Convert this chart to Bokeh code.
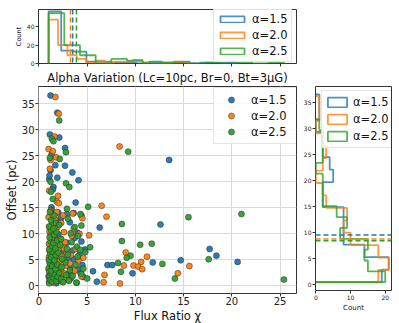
import numpy as np
from bokeh.plotting import figure
from bokeh.layouts import column, row
from bokeh.models import Range1d, Legend, LegendItem, Span, FixedTicker
from bokeh.embed import file_html
from bokeh.resources import INLINE

FONT = "DejaVu Sans"
labels = ["α=1.5", "α=2.0", "α=2.5"]
colors = ["#1f77b4", "#ff7f0e", "#2ca02c"]
title_text = "Alpha Variation (Lc=10pc, Br=0, Bt=3μG)"
x_label = "Flux Ratio χ"
y_label = "Offset (pc)"
count_label = "Count"
main_xticks = [0, 5, 10, 15, 20, 25]
main_yticks = [0, 5, 10, 15, 20, 25, 30, 35]
top_yticks = [0, 20, 40]
right_xticks = [0, 10, 20]
n_bins = 15

# ---- alpha = 1.5 (blue) ----
blue_x = [1.2, 1.9, 1.13, 2.1, 2.7, 1.3, 1.7, 2.7, 1.2, 3.46, 1.9, 1.06, 4.1, 1.1, 1.5, 1.44, 3.8, 1.3,
          6.3, 12.6, 11.8, 14.7, 17.7, 18.4, 20.6, 7.1, 7.6, 9.7, 6.0, 5.6, 13.5,
          1.10, 1.20, 1.30, 1.50, 1.70, 1.90, 2.10, 1.00, 1.40, 2.15, 3.00, 3.30, 3.90, 4.30, 4.60, 1.80,
          1.15, 1.25, 1.35, 1.55, 1.65, 1.95, 2.2, 1.1, 1.45, 2.25, 2.8, 3.2, 3.6, 4.0, 4.5, 1.75,
          1.1, 1.3, 1.5, 1.7, 2.0, 1.2, 2.3, 2.25, 3.1, 3.5, 4.2, 4.8,
          1.1, 1.3, 1.6, 2.0, 1.2, 2.9, 4.4, 3.7,
          1.2, 1.5, 2.2, 3.2, 4.0, 1.1,
          1.1, 1.3, 1.6, 2.0, 2.28, 2.9, 3.6, 4.4]
blue_y = [36.6, 33.3, 29.1, 28.5, 26.5, 25.2, 23.2, 23.1, 22.2, 21.8, 20.8, 20.5, 20.3, 21.2, 19.0, 18.5, 16.0, 15.1,
          11.2, 11.8, 4.5, 4.9, 7.1, 5.8, 4.6, 4.0, 4.0, 2.4, 0.8, 2.8, 24.2,
          2.6, 1.2, 2.0, 0.9, 2.3, 1.5, 2.7, 1.8, 2.8, 1.1, 2.2, 1.4, 0.6, 2.5, 1.7, 0.5,
          3.1, 4.6, 3.8, 5.0, 3.3, 4.2, 3.6, 4.9, 4.4, 3.0, 4.4, 3.5, 5.1, 3.2, 4.0, 2.95,
          5.6, 6.9, 6.2, 7.5, 5.8, 7.2, 6.6, 7.3, 5.5, 6.8, 6.0, 7.0,
          8.0, 9.5, 8.8, 9.9, 10.0, 8.3, 8.5, 9.2,
          10.6, 11.8, 12.3, 12.2, 10.2, 11.3,
          13.3, 14.6, 13.9, 14.1, 13.0, 13.8, 14.0, 13.5]

# ---- alpha = 2.0 (orange) ----
orange_x = [1.7, 2.05, 1.6, 1.0, 1.44, 1.8, 1.2, 1.13, 1.06, 1.98, 1.84, 2.05,
            6.5, 8.36, 7.0, 5.2, 9.0, 11.2, 10.6, 15.6, 8.8, 9.8, 10.3, 10.7, 14.4, 8.4, 6.7, 6.8,
            1.05, 1.2, 1.35, 1.5, 1.65, 1.8, 1.9, 2.1, 2.4, 2.6, 2.85, 3.1, 3.5, 4.4,
            1.02, 1.15, 1.3, 1.45, 1.6, 1.75, 1.9, 1.25, 2.05, 2.3, 2.55, 2.8, 3.2, 3.7, 4.1,
            1.03, 1.1, 1.2, 1.35, 1.5, 1.62, 1.78, 1.9, 1.45, 2.1, 2.35, 2.6, 2.9, 3.3, 3.8, 4.6,
            1.05, 1.2, 1.4, 1.6, 1.85, 2.2, 2.7, 3.4, 4.2,
            1.1, 1.3, 1.55, 1.7, 1.9, 2.3, 2.6, 3.6,
            1.0, 1.2, 1.45, 1.65, 1.85, 2.5, 3.5, 4.5]
orange_y = [36.3, 33.1, 28.7, 26.3, 25.9, 24.7, 24.2, 22.5, 18.3, 17.3, 16.2, 15.9,
            15.4, 26.8, 13.3, 9.7, 6.4, 5.6, 4.6, 3.8, 3.9, 3.9, 3.7, 3.2, 2.4, 0.45, 0.7, 2.1,
            0.9, 2.5, 1.6, 0.6, 2.2, 1.3, 2.7, 1.9, 0.8, 2.4, 1.5, 1.0, 2.6, 1.8,
            3.0, 4.4, 3.6, 5.1, 3.9, 4.8, 3.3, 4.0, 4.6, 3.2, 5.0, 3.9, 4.3, 2.9, 4.9,
            5.5, 6.8, 7.4, 6.1, 5.4, 7.0, 6.4, 5.8, 7.6, 6.9, 5.6, 7.2, 6.2, 5.9, 7.1, 5.4,
            8.1, 9.4, 8.7, 9.9, 7.9, 9.1, 8.4, 9.6, 10.0,
            10.5, 11.6, 12.2, 10.9, 11.3, 12.1, 10.3, 11.0,
            13.2, 14.4, 13.6, 12.8, 14.2, 13.5, 13.9, 13.0]

# ---- alpha = 2.5 (green) ----
green_x = [2.1, 1.34, 1.5, 2.8, 1.13, 2.16, 1.2, 2.8, 3.15, 1.23, 1.43, 5.1, 9.25,
           5.3, 8.6, 15.5, 21.0, 8.6, 10.5, 11.7, 9.5, 9.1, 12.8, 17.6, 25.4, 8.2, 8.5, 14.1,
           1.05, 1.1, 1.2, 1.3, 1.4, 1.5, 1.65, 1.8, 1.95, 2.1, 2.3, 2.5, 2.8, 3.1, 3.5, 3.9, 4.4, 5.0,
           1.0, 1.12, 1.25, 1.38, 1.55, 1.7, 1.9, 2.35, 2.75, 3.2, 3.8, 4.6,
           1.03, 1.15, 1.28, 1.42, 1.6, 1.75, 2.0, 2.4, 3.0, 4.0, 4.8,
           1.05, 1.2, 1.35, 1.5, 1.7, 1.9, 2.2, 2.9, 3.4, 3.95, 4.3,
           1.1, 1.3, 1.55, 1.8, 2.3, 3.3, 4.05,
           1.05, 1.25, 1.5, 1.75, 2.1, 3.0, 3.7, 4.4,
           1.15, 1.6, 2.9, 4.3]
green_y = [31.8, 28.3, 27.8, 25.7, 24.6, 24.4, 20.0, 19.7, 19.0, 18.1, 16.7, 15.2, 25.8,
           7.4, 11.9, 13.2, 13.8, 8.6, 7.9, 8.1, 5.8, 5.4, 4.2, 5.1, 1.2, 4.4, 2.7, 1.4,
           0.5, 1.9, 1.1, 2.4, 0.8, 1.6, 2.2, 0.9, 1.7, 2.5, 1.3, 0.7, 2.1, 1.0, 1.9, 0.6, 2.3, 1.4,
           3.4, 4.3, 2.9, 3.8, 4.6, 3.2, 4.1, 3.6, 4.5, 3.0, 4.0, 3.3,
           5.0, 6.2, 5.5, 6.6, 4.9, 5.9, 6.4, 5.2, 6.0, 5.6, 6.5,
           7.0, 8.5, 7.6, 8.2, 7.2, 8.7, 7.8, 7.1, 8.4, 7.5, 6.9,
           9.3, 10.6, 9.8, 10.4, 9.0, 10.1, 9.6,
           11.4, 12.6, 11.0, 12.1, 11.7, 12.9, 11.3, 11.6,
           14.2, 13.5, 14.8, 13.8]

series = [(blue_x, blue_y), (orange_x, orange_y), (green_x, green_y)]
EDGE = "#333333"


def style(p, tick_size, label_size, tick_out=3, standoff=2, label_standoff=1):
    for ax in p.axis:
        ax.axis_line_color = None
        ax.major_tick_line_color = EDGE
        ax.major_tick_out = tick_out
        ax.major_tick_in = 0
        ax.minor_tick_line_color = None
        ax.major_label_text_font = FONT
        ax.major_label_text_font_size = tick_size
        ax.major_label_text_color = "#222222"
        ax.major_label_standoff = standoff
        ax.axis_label_text_font = FONT
        ax.axis_label_text_font_size = label_size
        ax.axis_label_text_font_style = "normal"
        ax.axis_label_text_color = "#111111"
        ax.axis_label_standoff = label_standoff
    p.outline_line_color = EDGE
    p.outline_line_width = 1
    p.background_fill_color = "white"
    p.border_fill_color = "white"


def legend(items, loc, glyph_w, glyph_h, item_h, pad, spacing, standoff, label_w):
    return Legend(items=items, location=loc, orientation="vertical",
                  label_text_font=FONT, label_text_font_size="11.5px",
                  label_text_color="#111111",
                  glyph_width=glyph_w, glyph_height=glyph_h, label_height=item_h,
                  padding=pad, spacing=spacing, label_standoff=standoff,
                  label_width=label_w, margin=0,
                  border_line_color="#cccccc", border_line_width=1,
                  background_fill_color="white", background_fill_alpha=0.85)


XR = (-0.05, 26.71)

# ---------------- main scatter ----------------
main = figure(frame_width=258, frame_height=207,
              x_range=Range1d(*XR), y_range=Range1d(-1.48, 38.33),
              min_border_left=38, min_border_right=4, min_border_top=18, min_border_bottom=31,
              output_backend="svg", toolbar_location=None, title=title_text)
main.title.text_font = FONT
main.title.text_font_size = "11.5px"
main.title.text_font_style = "normal"
main.title.text_color = "#111111"
main.title.align = "center"
main.title.standoff = 3
style(main, "10px", "11.5px", tick_out=3, standoff=0, label_standoff=1)
main.yaxis.major_label_standoff = 1
main.yaxis.axis_label_standoff = 0
main.xaxis.ticker = FixedTicker(ticks=main_xticks)
main.yaxis.ticker = FixedTicker(ticks=main_yticks)
main.xaxis.axis_label = x_label
main.yaxis.axis_label = y_label
main.xgrid.ticker = FixedTicker(ticks=main_xticks)
main.ygrid.ticker = FixedTicker(ticks=main_yticks)
main.grid.grid_line_color = "#dadada"
main.grid.grid_line_width = 1

scatter_items = []
for (xs, ys), c, lab in zip(series, colors, labels):
    r = main.scatter(xs, ys, size=6, fill_color=c, fill_alpha=0.95,
                     line_color="#2a2a2a", line_width=0.5)
    scatter_items.append(LegendItem(label=lab, renderers=[r]))
main.add_layout(legend(scatter_items, (175, 149), 26, 15, 15, 4, 1, 7, 41))

# ---------------- top histogram (flux ratio) ----------------
top = figure(frame_width=258, frame_height=54,
             x_range=Range1d(*XR), y_range=Range1d(0, 59),
             min_border_left=38, min_border_right=4, min_border_top=9, min_border_bottom=4,
             output_backend="svg", toolbar_location=None)
style(top, "6px", "6.5px", tick_out=3, standoff=1, label_standoff=1)
top.grid.visible = False
top.xaxis.ticker = FixedTicker(ticks=main_xticks)
top.xaxis.major_label_text_font_size = "0px"
top.xaxis.major_label_text_color = None
top.xaxis.major_label_standoff = 0
top.yaxis.ticker = FixedTicker(ticks=top_yticks)
top.yaxis.axis_label = count_label

nan1 = [float("nan")]
top_items = []
for (xs, ys), c, lab in zip(series, colors, labels):
    counts, edges = np.histogram(xs, bins=n_bins)
    top.line(np.repeat(edges, 2), np.concatenate([[0], np.repeat(counts, 2), [0]]),
             line_color=c, line_width=1.8, line_alpha=0.8)
for (xs, ys), c, lab in zip(series, colors, labels):
    top.add_layout(Span(location=float(np.mean(xs)), dimension="height",
                        line_color=c, line_dash="5 3", line_width=1.5))
    dummy = top.quad(left=nan1, right=nan1, top=nan1, bottom=nan1, fill_alpha=0,
                     line_color=c, line_width=1.8, line_alpha=0.8)
    top_items.append(LegendItem(label=lab, renderers=[dummy]))
top.add_layout(legend(top_items, (175, 1), 30, 8, 15, 3, 1, 5, 36))

# ---------------- right histogram (offset) ----------------
right = figure(frame_width=76, frame_height=204,
               x_range=Range1d(-0.09, 21.8), y_range=Range1d(-1.1, 38.13),
               min_border_left=12, min_border_right=6, min_border_top=19, min_border_bottom=33,
               output_backend="svg", toolbar_location=None)
style(right, "6px", "7px", tick_out=3, standoff=1, label_standoff=1)
right.grid.visible = False
right.xaxis.ticker = FixedTicker(ticks=right_xticks)
right.yaxis.ticker = FixedTicker(ticks=main_yticks)
right.xaxis.axis_label = count_label

right_items = []
for (xs, ys), c, lab in zip(series, colors, labels):
    counts, edges = np.histogram(ys, bins=n_bins)
    right.line(np.concatenate([[0], np.repeat(counts, 2), [0]]), np.repeat(edges, 2),
               line_color=c, line_width=1.8, line_alpha=0.8)
for (xs, ys), c, lab in zip(series, colors, labels):
    right.add_layout(Span(location=float(np.mean(ys)), dimension="width",
                          line_color=c, line_dash="5 3", line_width=1.5))
    dummy = right.quad(left=nan1, right=nan1, top=nan1, bottom=nan1, fill_alpha=0,
                       line_color=c, line_width=1.8, line_alpha=0.8)
    right_items.append(LegendItem(label=lab, renderers=[dummy]))
right.add_layout(legend(right_items, (6, 142), 24, 12, 16, 3, 1, 4, 36))

layout = column(top, row(main, right, spacing=0), spacing=0)
open("out.html", "w").write(file_html(layout, INLINE))
